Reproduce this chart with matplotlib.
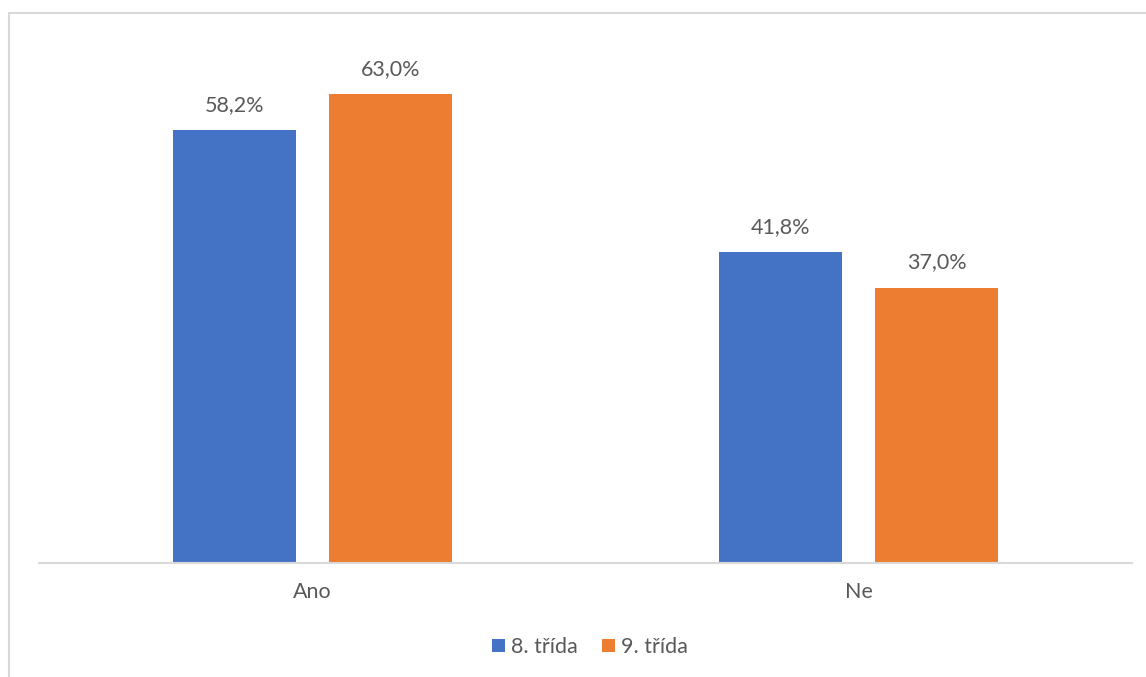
import matplotlib
matplotlib.use("Agg")
import matplotlib.pyplot as plt
from matplotlib.patches import Rectangle
import numpy as np

categories = ["Ano", "Ne"]
series_names = ["8. třída", "9. třída"]
values_8 = [58.2, 41.8]
values_9 = [63.0, 37.0]
colors = ["#4472C4", "#ED7D31"]
text_color = "#595959"

W, H = 1146, 677
fig = plt.figure(figsize=(W / 100, H / 100), dpi=100)
plt.rcParams['font.family'] = ['Lato', 'DejaVu Sans']

# border around the chart area
fig.patches.append(Rectangle((9 / W, 0 - 0.01), (W + 20) / W, (H - 13.5) / H + 0.01,
                             transform=fig.transFigure, fill=False,
                             edgecolor="#d9d9d9", linewidth=1.5))

left, right = 39, 1132
base_y = 562.5
top_y = base_y - 70 * 7.43
ax = fig.add_axes([left / W, 1 - base_y / H, (right - left) / W, (base_y - top_y) / H])

x = np.arange(len(categories))
bw = 0.225
off = 0.1425
b1 = ax.bar(x - off, values_8, bw, color=colors[0], label=series_names[0])
b2 = ax.bar(x + off, values_9, bw, color=colors[1], label=series_names[1])

for bars, vals in ((b1, values_8), (b2, values_9)):
    for rect, v in zip(bars, vals):
        ax.annotate(f"{v:.1f}%".replace(".", ","),
                    (rect.get_x() + rect.get_width() / 2, rect.get_height()),
                    xytext=(0, 11), textcoords="offset points",
                    ha="center", va="bottom", fontsize=15.5, color=text_color)

ax.set_xlim(-0.5, 1.5)
ax.set_ylim(0, 70)
ax.set_xticks(x)
ax.set_xticklabels(categories, fontsize=15.5, color=text_color)
ax.tick_params(axis="x", length=0, pad=14)
ax.set_yticks([])
for s in ("top", "right", "left"):
    ax.spines[s].set_visible(False)
ax.spines["bottom"].set_color("#d9d9d9")
ax.spines["bottom"].set_linewidth(1.5)

leg = fig.legend(handles=[b1, b2], labels=series_names, loc="center",
                 bbox_to_anchor=(590 / W, 1 - 647 / H), ncol=2, frameon=False,
                 fontsize=15.5, handlelength=0.6, handleheight=0.6,
                 handletextpad=0.3, columnspacing=1.1)
for t in leg.get_texts():
    t.set_color(text_color)

fig.savefig("out.png", dpi=100)
